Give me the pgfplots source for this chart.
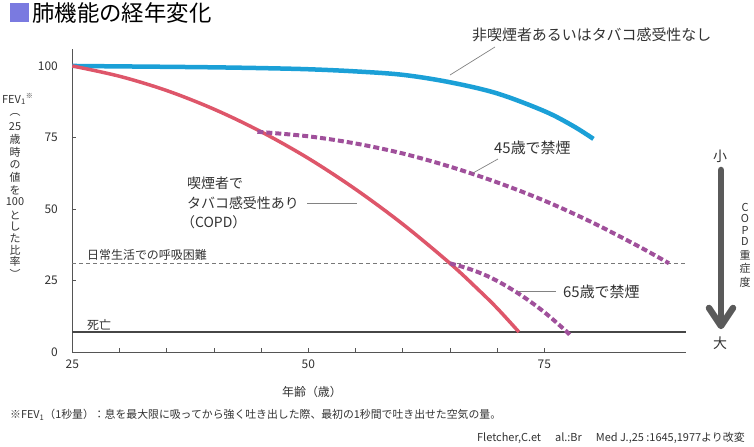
\documentclass[border=0pt]{standalone}
\usepackage{fontspec}
\setmainfont{Noto Sans CJK JP}
\usepackage{pgfplots}
\pgfplotsset{compat=1.18}

\definecolor{cblue}{RGB}{27,160,215}
\definecolor{cred}{RGB}{222,86,106}
\definecolor{cpurple}{RGB}{160,80,155}
\definecolor{caxis}{RGB}{85,85,85}
\definecolor{ctext}{RGB}{50,50,50}
\definecolor{ctitle}{RGB}{122,122,224}
\definecolor{cleader}{RGB}{130,130,130}

\newcommand{\fs}[1]{\fontsize{#1}{#1}\selectfont}

\begin{document}
\begin{tikzpicture}
\useasboundingbox (0,0) rectangle (754bp,447bp);
\begin{axis}[
  at={(72.3bp,95bp)}, anchor=south west,
  scale only axis, width=613.7bp, height=303.2bp,
  xmin=25, xmax=90, ymin=0, ymax=106,
  axis lines=left, axis line style={caxis, line width=0.8bp, -},
  xtick={25,30,...,75}, xticklabels={25,,,,,50,,,,,75},
  ytick={0,25,50,75,100},
  tick align=inside, major tick length=4bp,
  tick style={caxis, line width=0.6bp},
  tick label style={font=\fs{12}, text=ctext},
  /pgf/number format/assume math mode=true,
  xticklabel style={yshift=-4bp},
  yticklabel style={xshift=-11bp},
  clip=false,
]
% death line and daily-life line
\addplot[color={rgb,255:red,70;green,70;blue,70}, line width=2bp] coordinates {(25,7) (90,7)};
\addplot[color={rgb,255:red,120;green,120;blue,120}, line width=0.8bp, dash pattern=on 4bp off 3bp] coordinates {(25,31) (90,31)};
% non-smoker
\addplot[cblue, line width=4.5bp, smooth, tension=0.55] coordinates {
 (25,100) (30,99.85) (35,99.7) (40,99.52) (45,99.25) (50,98.85) (55,98.1) (60,96.9) (65,94.3) (70,90.4) (75,84.2) (78,79.1) (80.2,74.5)};
% smoker COPD
\addplot[cred, line width=3.5bp, smooth, tension=0.55] coordinates {
 (25,100) (30,96.4) (35,91.4) (40,84.9) (45,77.0) (50,67.7) (55,56.9) (60,44.7) (65,31.0) (68,21.8) (70,15.3) (72.3,7)};
% quit at 45
\addplot[cpurple, line width=4bp, dash pattern=on 6bp off 3bp, smooth, tension=0.55] coordinates {
 (44.6,77.0) (50,75.4) (55,72.9) (60,69.4) (65,64.8) (70,59.3) (75,52.9) (80,45.4) (85,36.9) (88.2,31)};
% quit at 65
\addplot[cpurple, line width=4bp, dash pattern=on 6bp off 3bp, smooth, tension=0.55] coordinates {
 (65,31) (67,29.1) (69,26.5) (71,23.0) (73,18.8) (75,13.9) (77,8.2) (77.7,6)};
\end{axis}

\begin{scope}[x=1bp,y=-1bp,shift={(0bp,447bp)}]
% title
\fill[ctitle] (10,3) rectangle (29,22);
\node[anchor=west, inner sep=0, text=black] at (32,13) {\fs{22.5}肺機能の経年変化};
% curve labels
\node[anchor=west, inner sep=0, text=ctext] at (472,35) {\fs{15}非喫煙者あるいはタバコ感受性なし};
\draw[cleader, line width=0.7bp] (495,47) -- (450,75);
\node[anchor=west, inner sep=0, text=ctext] at (187,183) {\fs{14}喫煙者で};
\node[anchor=west, inner sep=0, text=ctext] at (187,203) {\fs{14}タバコ感受性あり};
\node[anchor=west, inner sep=0, text=ctext] at (181,222) {\fs{14}（COPD）};
\draw[cleader, line width=0.7bp] (307,203) -- (357,203);
\node[anchor=west, inner sep=0, text=ctext] at (494,148) {\fs{15}45歳で禁煙};
\draw[cleader, line width=0.7bp] (498,159) -- (473,173);
\node[anchor=west, inner sep=0, text=ctext] at (563,292) {\fs{15}65歳で禁煙};
\draw[cleader, line width=0.7bp] (518,291) -- (556,291);
\node[anchor=west, inner sep=0, text=ctext] at (87,255) {\fs{12}日常生活での呼吸困難};
\node[anchor=west, inner sep=0, text=ctext] at (87,325) {\fs{12}死亡};
% y label
\node[anchor=west, inner sep=0, text=ctext] at (2,99) {\fs{11}FEV\textsubscript{1}\raisebox{0.45em}{\fs{7}※}};
\foreach \t/\yy in {︵/115, 25/126.5, 歳/139, 時/152, の/165, 値/177, を/190, 100/201.7, と/215, し/226.7, た/238, 比/250, 率/261.7, ︶/274}
  \node[inner sep=0, text=ctext] at (15,\yy) {\fs{11}\t};
% severity arrow
\node[inner sep=0, text=ctext] at (720,156) {\fs{14}小};
\draw[color={rgb,255:red,90;green,90;blue,90}, line width=6.5bp, line cap=round] (721,170) -- (721,324);
\draw[color={rgb,255:red,90;green,90;blue,90}, line width=6.5bp, line cap=round, line join=round] (709,308) -- (721,326) -- (733,308);
\node[inner sep=0, text=ctext] at (720,343) {\fs{14}大};
\foreach \t/\yy in {C/207, O/218.5, P/230, D/241.5, 重/255, 症/268.5, 度/282}
  \node[inner sep=0, text=ctext] at (745,\yy) {\fs{11}\t};
% x label and footnotes
\node[inner sep=0, text=ctext] at (312,392) {\fs{12}年齢（歳）};
\node[anchor=west, inner sep=0, text=ctext] at (10,415) {\fs{10.9}※FEV\textsubscript{1}（1秒量）：息を最大限に吸ってから強く吐き出した際、最初の1秒間で吐き出せた空気の量。};
\node[anchor=east, inner sep=0, text=ctext] at (745,438) {\fs{11}Fletcher,C.et\hspace{14bp}al.:Br\hspace{14bp}Med J.,25 :1645,1977より改変};
\end{scope}
\end{tikzpicture}
\end{document}
